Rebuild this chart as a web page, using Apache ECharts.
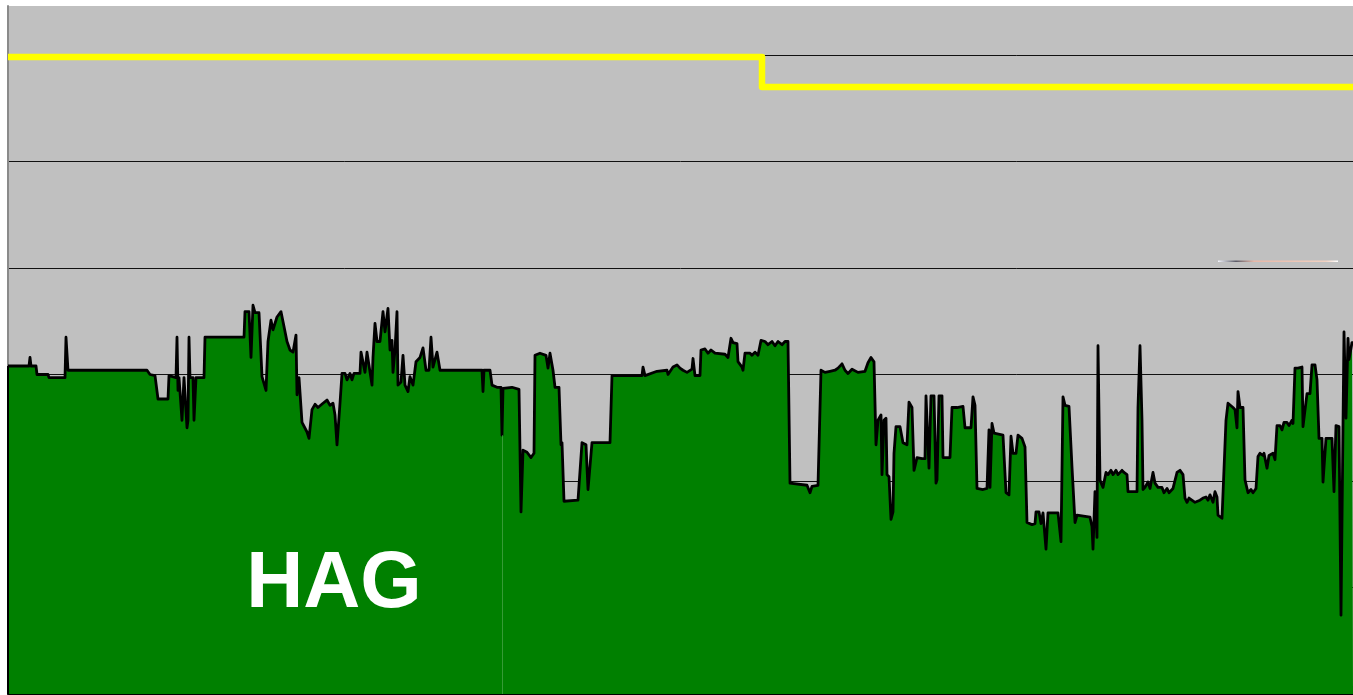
<!DOCTYPE html>
<html lang="en">
<head>
    <meta charset="UTF-8">
    <meta name="viewport" content="width=device-width, initial-scale=1.0">
    <script src="https://cdn.jsdelivr.net/npm/echarts@6/dist/echarts.min.js"></script>
    <title>HAG</title>
    <style>
        html, body { margin: 0; padding: 0; background: #fff; }
        #main { width: 1353px; height: 695px; }
    </style>
</head>
<body>
    <div id="main"></div>
    <script type="text/javascript">
        // 高度数据 [位置, 值]
        var hagPoints = [
            [0,308],[21,308],[22,316],[23,308],[28,308],[29,300],[40,300],[41,297],[57,297],[58,335],[60,304],[139,304],[142,300],[147,299],[150,277],[160,277],[161,299],[168,297],[169,335],[170,285],[171,297],[173,297],[174,257],[175,257],[176,297],[178,297],[179,250],[180,257],[181,335],[182,297],[185,297],[186,257],[187,257],[188,297],[196,297],[197,335],[236,335],[237,359],[241,359],[243,316],[245,365],[247,358],[251,358],[254,298],[258,285],[260,331],[263,351],[265,342],[269,354],[273,359],[276,345],[279,331],[282,323],[285,321],[288,337],[289,281],[291,297],[294,255],[299,246],[301,240],[304,267],[307,272],[310,269],[315,273],[319,276],[322,271],[325,273],[327,262],[329,234],[332,273],[334,301],[337,301],[339,295],[342,301],[344,295],[346,301],[352,301],[353,321],[355,321],[357,302],[359,321],[361,321],[364,290],[365,316],[367,348],[369,331],[372,331],[375,359],[377,340],[380,362],[382,323],[384,332],[385,302],[387,323],[389,359],[390,290],[393,293],[395,318],[397,290],[400,284],[402,298],[405,290],[408,312],[412,316],[415,325],[418,304],[421,304],[423,335],[425,307],[429,321],[432,304],[474,304],[475,284],[476,304],[482,304],[484,290],[489,288],[493,288],[494,243],[495,287],[504,288],[511,286],[513,171],[515,229],[519,227],[523,222],[526,226],[527,318],[532,320],[538,318],[540,306],[542,320],[545,304],[547,288],[551,288],[553,234],[554,236],[556,181],[570,182],[572,181],[574,236],[578,234],[580,192],[582,192],[584,236],[602,236],[604,299],[622,299],[634,299],[635,307],[637,299],[649,303],[659,304],[660,300],[665,307],[669,309],[672,306],[675,304],[679,302],[684,305],[685,315],[687,299],[692,299],[693,323],[697,324],[700,320],[703,323],[707,320],[717,319],[720,316],[723,334],[725,330],[729,329],[730,312],[734,307],[735,304],[737,320],[742,320],[744,318],[747,321],[750,318],[753,332],[757,331],[760,328],[764,331],[767,327],[770,331],[774,328],[777,331],[780,331],[782,198],[799,196],[802,189],[804,195],[810,196],[813,304],[817,302],[822,303],[827,304],[830,306],[834,310],[837,304],[840,301],[844,305],[850,302],[857,303],[860,311],[863,316],[866,312],[868,234],[870,257],[873,262],[874,206],[876,257],[878,259],[879,206],[881,204],[883,164],[885,171],[886,226],[888,251],[892,251],[895,236],[899,234],[901,274],[904,269],[906,210],[909,222],[914,221],[917,221],[918,280],[920,280],[921,212],[923,280],[926,280],[928,198],[929,201],[931,280],[934,280],[935,222],[942,222],[944,269],[949,269],[950,270],[955,270],[957,250],[963,250],[965,279],[967,271],[969,193],[975,192],[979,193],[981,248],[982,194],[984,254],[986,245],[995,243],[998,189],[1001,187],[1003,242],[1005,226],[1008,226],[1010,243],[1014,240],[1017,232],[1019,161],[1024,159],[1027,160],[1028,171],[1031,171],[1033,160],[1035,170],[1037,171],[1038,136],[1040,170],[1050,170],[1053,143],[1055,279],[1057,271],[1061,270],[1064,213],[1067,161],[1069,168],[1082,166],[1084,157],[1085,136],[1087,190],[1089,147],[1090,327],[1092,201],[1094,196],[1095,194],[1098,208],[1100,206],[1103,210],[1105,206],[1108,210],[1110,206],[1114,210],[1116,208],[1119,206],[1120,190],[1129,190],[1130,269],[1132,327],[1134,257],[1135,192],[1137,194],[1140,199],[1142,193],[1145,208],[1147,198],[1150,194],[1154,194],[1156,189],[1159,193],[1161,189],[1165,193],[1167,192],[1169,208],[1172,210],[1175,206],[1177,184],[1179,180],[1181,184],[1187,180],[1192,182],[1195,184],[1198,185],[1200,182],[1202,187],[1205,180],[1207,190],[1209,185],[1210,168],[1214,165],[1216,166],[1218,257],[1220,273],[1225,269],[1227,267],[1229,250],[1230,284],[1232,269],[1235,269],[1237,201],[1240,189],[1243,192],[1245,189],[1248,193],[1250,223],[1252,226],[1255,224],[1256,226],[1259,212],[1261,224],[1265,226],[1267,220],[1269,252],[1272,252],[1274,248],[1276,255],[1279,255],[1281,252],[1284,257],[1285,254],[1287,306],[1290,306],[1294,307],[1295,251],[1299,282],[1302,282],[1304,309],[1307,309],[1309,295],[1311,240],[1314,240],[1315,199],[1318,240],[1324,240],[1326,190],[1328,252],[1331,251],[1333,74],[1336,340],[1338,259],[1340,334],[1341,314],[1344,330],[1345,330]
        ];
        // 黄线 (阶梯)
        var altPoints = [[0,598],[754,598],[754,570],[1345,570]];
        // 分段接缝位置
        var seamX = [494, 989];
        var xMax = 1345;
        var yMax = 646;
        var yStep = 100;

        var myChart = echarts.init(document.getElementById('main'));

        function valueAt(x) {
            for (var i = 0; i < hagPoints.length; i++) {
                if (hagPoints[i][0] === x) return hagPoints[i][1];
            }
            return 0;
        }

        var markData = seamX.map(function (x) {
            return [{coord: [x, 0]}, {coord: [x, valueAt(x)]}];
        });
        // 左边黑边
        markData.push([
            {coord: [0, 0], lineStyle: {color: '#000', width: 2, opacity: 1}},
            {coord: [0, hagPoints[0][1]]}
        ]);

        var option = {
            animation: false,
            grid: {
                left: 8, right: 0, top: 6, bottom: 1,
                show: true,
                backgroundColor: '#c0c0c0',
                borderWidth: 0
            },
            xAxis: {
                type: 'value',
                min: 0, max: xMax,
                axisLine: {show: true, onZero: false, lineStyle: {color: '#000', width: 2}},
                axisTick: {show: false},
                axisLabel: {show: false},
                splitLine: {show: false}
            },
            yAxis: {
                type: 'value',
                min: 0, max: yMax, interval: yStep,
                axisLine: {show: true, lineStyle: {color: '#8a8a8a', width: 2}},
                axisTick: {show: false},
                axisLabel: {show: false},
                splitLine: {
                    show: true,
                    showMinLine: false,
                    showMaxLine: false,
                    lineStyle: {color: '#111', width: 1}
                }
            },
            graphic: [
                {
                    type: 'text',
                    z: 100,
                    style: {
                        x: 334, y: 585,
                        text: 'HAG',
                        fill: '#fff',
                        font: 'bold 79px "Liberation Sans", Arial, sans-serif',
                        textAlign: 'center',
                        textVerticalAlign: 'middle'
                    }
                },
                {
                    type: 'rect',
                    z: 100,
                    shape: {x: 1218, y: 260.5, width: 120, height: 1.5},
                    style: {
                        fill: new echarts.graphic.LinearGradient(0, 0, 1, 0, [
                            {offset: 0, color: '#f4f6ff'},
                            {offset: 0.15, color: '#5a5a66'},
                            {offset: 0.3, color: '#e8b8a8'},
                            {offset: 0.9, color: '#f0d0c0'},
                            {offset: 1, color: '#ffffff'}
                        ])
                    }
                }
            ],
            series: [
                {
                    name: 'HAG',
                    type: 'line',
                    data: hagPoints,
                    showSymbol: false,
                    symbol: 'none',
                    sampling: null,
                    z: 2,
                    lineStyle: {color: '#000', width: 2.8, join: 'round'},
                    areaStyle: {color: '#008000', opacity: 1},
                    markLine: {
                        silent: true,
                        symbol: ['none', 'none'],
                        label: {show: false},
                        lineStyle: {color: '#4da64d', width: 1, type: 'solid', opacity: 0.7},
                        data: markData
                    }
                },
                {
                    name: 'ALT',
                    type: 'line',
                    data: altPoints,
                    showSymbol: false,
                    symbol: 'none',
                    z: 3,
                    lineStyle: {color: '#ffff00', width: 6.5, join: 'round'}
                }
            ]
        };
        myChart.setOption(option);
    </script>
</body>
</html>
